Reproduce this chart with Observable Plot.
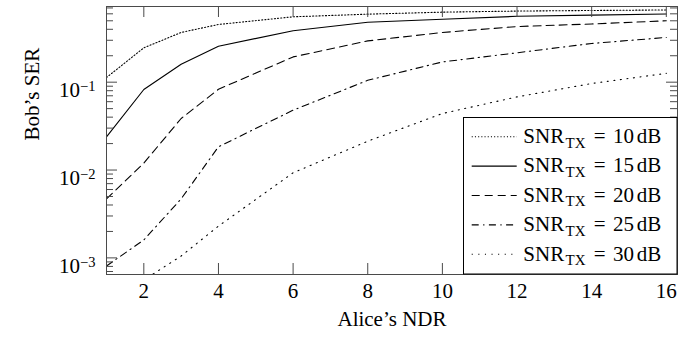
<!DOCTYPE html>
<html><head><meta charset="utf-8">
<script src="https://cdn.jsdelivr.net/npm/d3@7"></script>
<script src="https://cdn.jsdelivr.net/npm/@observablehq/plot@0.6"></script>
<style>body{margin:0;background:#fff} svg text, svg tspan{font-family:"Liberation Serif","DejaVu Serif",serif}</style>
</head><body><div id="chart"></div>
<script>
const ndr = [1, 2, 3, 4, 6, 8, 10, 12, 14, 16];
const ser10 = [0.113, 0.246, 0.368, 0.454, 0.555, 0.595, 0.627, 0.645, 0.655, 0.664];
const ser15 = [0.0238, 0.0826, 0.160, 0.257, 0.385, 0.482, 0.521, 0.562, 0.58, 0.598];
const ser20 = [0.0047, 0.012, 0.0386, 0.083, 0.194, 0.295, 0.368, 0.43, 0.46, 0.50];
const ser25 = [0.00081, 0.0016, 0.0047, 0.0184, 0.048, 0.105, 0.170, 0.216, 0.276, 0.323];
const ser30 = [0.00025, 0.00056, 0.00105, 0.0023, 0.0093, 0.0213, 0.044, 0.068, 0.0966, 0.126];
const snrLabels = ["10", "15", "20", "25", "30"];
const xTicks = [2, 4, 6, 8, 10, 12, 14, 16];
const yMajorTicks = [1e-3, 1e-2, 1e-1];
const yMinorTicks = [7e-4, 8e-4, 9e-4,
  2e-3, 3e-3, 4e-3, 5e-3, 6e-3, 7e-3, 8e-3, 9e-3,
  2e-2, 3e-2, 4e-2, 5e-2, 6e-2, 7e-2, 8e-2, 9e-2,
  2e-1, 3e-1, 4e-1, 5e-1, 6e-1, 7e-1];

const W = 699, H = 339, mL = 106, mR = 22, mT = 6, mB = 65;
const pw = W - mL - mR, ph = H - mT - mB;
const majorLen = 11, minorLen = 7;
const axisColor = "#4a4a4a";
const serif = '"Liberation Serif", "DejaVu Serif", serif';

const series = [
  {label: snrLabels[0], values: ser10, dash: "1.1,2.1"},
  {label: snrLabels[1], values: ser15, dash: null},
  {label: snrLabels[2], values: ser20, dash: "8,5"},
  {label: snrLabels[3], values: ser25, dash: "7,4.5,1.2,4.5"},
  {label: snrLabels[4], values: ser30, dash: "1.1,5.5"}
];

const chart = Plot.plot({
  width: W, height: H,
  marginLeft: mL, marginRight: mR, marginTop: mT, marginBottom: mB,
  style: {fontFamily: serif, fontSize: "21px", background: "#fff", color: "#000"},
  x: {domain: [1, 16.3]},
  y: {type: "log", domain: [6.47e-4, 0.727]},
  marks: [
    ...series.map(s => Plot.line(ndr.map((x, i) => ({x, y: s.values[i]})), {
      x: "x", y: "y", stroke: "#000", strokeWidth: 1.1,
      strokeDasharray: s.dash || undefined, clip: true
    })),
    Plot.tickX(xTicks, {x: d => d, stroke: axisColor, insetTop: ph - majorLen}),
    Plot.tickX(xTicks, {x: d => d, stroke: axisColor, insetBottom: ph - majorLen}),
    Plot.tickY(yMajorTicks, {y: d => d, stroke: axisColor, insetRight: pw - majorLen}),
    Plot.tickY(yMajorTicks, {y: d => d, stroke: axisColor, insetLeft: pw - majorLen}),
    Plot.tickY(yMinorTicks, {y: d => d, stroke: axisColor, insetRight: pw - minorLen}),
    Plot.tickY(yMinorTicks, {y: d => d, stroke: axisColor, insetLeft: pw - minorLen}),
    Plot.frame({stroke: axisColor}),
    Plot.axisX({ticks: xTicks, tickSize: 0, tickPadding: 9, tickFormat: d => String(d), label: null}),
    Plot.axisY({ticks: yMajorTicks, tickSize: 0, tickPadding: 11, tickFormat: d => String(Math.round(Math.log10(d))), label: null}),
    Plot.text(["Alice’s NDR"], {text: d => d, frameAnchor: "bottom", dy: 51}),
    Plot.text(["Bob’s SER"], {text: d => d, frameAnchor: "left", dx: -74.4, rotate: -90})
  ]
});

document.getElementById("chart").appendChild(chart);

// superscript exponents on y tick labels
chart.querySelectorAll('g[aria-label="y-axis tick label"] text').forEach(t => {
  const e = t.textContent.replace("-", "−");
  t.textContent = "";
  t.setAttribute("dy", "0.4em");
  const a = document.createElementNS("http://www.w3.org/2000/svg", "tspan");
  a.textContent = "10";
  const b = document.createElementNS("http://www.w3.org/2000/svg", "tspan");
  b.textContent = e;
  b.setAttribute("dy", "-6.5");
  b.setAttribute("font-size", "14.5");
  t.appendChild(a); t.appendChild(b);
});

// legend
const svg = d3.select(chart);
const lg = svg.append("g")
  .attr("text-anchor", "start")
  .style("font-family", serif).style("font-size", "21px");
const bx0 = 463.5, by0 = 117.5, bx1 = mL + pw, by1 = mT + ph;
lg.append("rect").attr("x", bx0).attr("y", by0).attr("width", bx1 - bx0).attr("height", by1 - by0)
  .attr("fill", "#fff").attr("stroke", "#000").attr("stroke-width", 1);
series.forEach((s, i) => {
  const ly = 136.7 + i * 29.4;
  const ln = lg.append("line").attr("x1", 471.7).attr("x2", 516.7).attr("y1", ly).attr("y2", ly)
    .attr("stroke", "#000").attr("stroke-width", 1.1);
  if (s.dash) ln.attr("stroke-dasharray", s.dash);
  const t = lg.append("text").attr("y", ly + 6.3).attr("text-anchor", "start").attr("fill", "#000");
  t.append("tspan").attr("x", 523.3).text("SNR");
  t.append("tspan").attr("x", 565.5).attr("dy", 4.5).style("font-size", "15px").text("TX");
  t.append("tspan").attr("x", 593.8).attr("dy", -4.5).text("=");
  t.append("tspan").attr("x", 613).text(s.label);
  t.append("tspan").attr("x", 636.8).text("dB");
});
</script>
</body></html>
